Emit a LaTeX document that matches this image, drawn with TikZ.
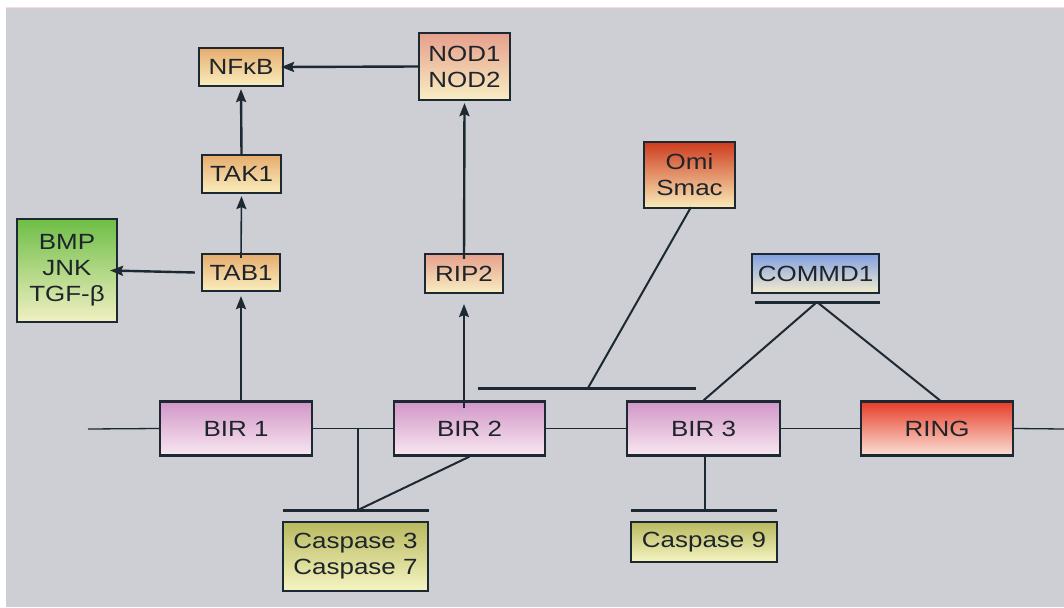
\documentclass[tikz,border=0pt]{standalone}
\usepackage{fontspec}
\setmainfont[FakeStretch=1.18]{Liberation Sans}
\usetikzlibrary{arrows.meta}
\definecolor{bg}{RGB}{206,206,213}
\definecolor{ink}{RGB}{28,40,50}
\tikzset{
  box/.style={draw=ink, line width=2.2pt, inner sep=0pt, align=center,
    font=\fontsize{22}{26}\selectfont, text={rgb,255:red,30;green,36;blue,42}},
  orangebox/.style={box, top color={rgb,255:red,230;green,172;blue,110}, bottom color={rgb,255:red,250;green,238;blue,190}},
  pinkbox/.style={box, top color={rgb,255:red,230;green,160;blue,140}, bottom color={rgb,255:red,248;green,238;blue,195}},
  greenbox/.style={box, top color={rgb,255:red,110;green,190;blue,70}, bottom color={rgb,255:red,242;green,240;blue,195}},
  omibox/.style={box, top color={rgb,255:red,205;green,60;blue,30}, bottom color={rgb,255:red,250;green,236;blue,185}},
  bluebox/.style={box, top color={rgb,255:red,130;green,160;blue,225}, bottom color={rgb,255:red,245;green,236;blue,205}},
  birbox/.style={box, top color={rgb,255:red,210;green,150;blue,200}, bottom color={rgb,255:red,248;green,232;blue,240}},
  ringbox/.style={box, top color={rgb,255:red,232;green,60;blue,40}, middle color={rgb,255:red,236;green,80;blue,80}, bottom color={rgb,255:red,250;green,225;blue,215}},
  caspbox/.style={box, top color={rgb,255:red,185;green,185;blue,95}, bottom color={rgb,255:red,245;green,245;blue,195}},
  arr/.style={draw=ink, line width=2.4pt, -{Stealth[length=13pt,width=10pt,inset=2pt]}},
  thinline/.style={draw=ink, line width=1.3pt},
  midline/.style={draw=ink, line width=2pt},
  bar/.style={draw=ink, line width=3pt},
}
\begin{document}
\begin{tikzpicture}[x=1pt,y=-1pt]
\useasboundingbox (0,0) rectangle (1064,607);
\fill[white] (0,0) rectangle (1064,607);
\fill[bg] (6,8) rectangle (1064,607);
\draw[red!15, line width=1pt] (6,8) -- (1064,8);

% nodes
\node[orangebox, minimum width=84pt, minimum height=38pt] (nfkb) at (241,67) {NFκB};
\node[pinkbox, minimum width=91pt, minimum height=67pt] (nod) at (464.5,66.5) {NOD1\\NOD2};
\node[orangebox, minimum width=79pt, minimum height=38pt] (tak1) at (241.5,174) {TAK1};
\node[orangebox, minimum width=78pt, minimum height=37pt] (tab1) at (241,272.5) {TAB1};
\node[greenbox, minimum width=100pt, minimum height=103pt] (bmp) at (67,270.5) {BMP\\JNK\\TGF-β};
\node[pinkbox, minimum width=78pt, minimum height=39pt] (rip2) at (464,273.5) {RIP2};
\node[omibox, minimum width=91pt, minimum height=66pt] (omi) at (689.5,175) {Omi\\Smac};
\node[bluebox, minimum width=127pt, minimum height=39pt] (commd1) at (815.5,273.5) {COMMD1};
\node[birbox, minimum width=152pt, minimum height=54pt] (bir1) at (236,428.5) {BIR 1};
\node[birbox, minimum width=151pt, minimum height=54pt] (bir2) at (469.5,428.5) {BIR 2};
\node[birbox, minimum width=153pt, minimum height=54pt] (bir3) at (703.5,428.5) {BIR 3};
\node[ringbox, minimum width=152pt, minimum height=54pt] (ring) at (937,428.5) {RING};
\node[caspbox, minimum width=145pt, minimum height=69pt] (casp37) at (355.5,556.5) {Caspase 3\\Caspase 7};
\node[caspbox, minimum width=146pt, minimum height=40pt] (casp9) at (704,542) {Caspase 9};

% coordinates
\coordinate (lstart) at (88,429);
\coordinate (lend) at (1064,429);
\coordinate (c37top) at (358,429);
\coordinate (c37join) at (358,510);
\coordinate (c37barL) at (283,510);
\coordinate (c37barR) at (429,510);
\coordinate (c9join) at (705,510);
\coordinate (c9barL) at (631,510);
\coordinate (c9barR) at (777,510);
\coordinate (linkL) at (478,388);
\coordinate (linkR) at (696,388);
\coordinate (omijoin) at (588,388);
\coordinate (comL) at (755,302);
\coordinate (comR) at (880,302);
\coordinate (comjoin) at (817,302);

% main backbone
\draw[thinline] (lstart) -- (bir1.west);
\draw[thinline] (bir1.east) -- (bir2.west);
\draw[thinline] (bir2.east) -- (bir3.west);
\draw[thinline] (bir3.east) -- (ring.west);
\draw[thinline] (ring.east) -- (lend);

% arrows
\draw[arr] (nod.west) -- ([xshift=-3pt]nfkb.east);
\draw[arr] (tak1.north) -- ([yshift=-2pt]nfkb.south);
\draw[arr, line width=1.6pt] ([yshift=-5pt]tab1.north) -- ([yshift=-2pt]tak1.south);
\draw[arr] ([xshift=-6pt]tab1.west) -- ([xshift=-8pt]bmp.east);
\draw[arr] (tab1.south |- bir1.north) -- ([yshift=-4pt]tab1.south);
\draw[arr] ([yshift=-6pt]rip2.north) -- ([yshift=-2pt]nod.south);
\draw[arr, line width=1.8pt] ([yshift=-8pt]rip2.south |- bir2.north) -- ([yshift=-10pt]rip2.south);

% caspase 3/7
\draw[midline] (c37top) -- (c37join);
\draw[midline] (bir2.south) -- (c37join);
\draw[bar] (c37barL) -- (c37barR);

% caspase 9
\draw[midline] (bir3.south -| c9join) -- (c9join);
\draw[bar] (c9barL) -- (c9barR);

% Omi/Smac
\draw[bar] (linkL) -- (linkR);
\draw[midline] ([xshift=1.5pt,yshift=2pt]omi.south) -- (omijoin);

% COMMD1
\draw[bar] (comL) -- (comR);
\draw[midline] (comjoin) -- (bir3.north);
\draw[midline] (comjoin) -- ([xshift=3pt]ring.north);
\end{tikzpicture}
\end{document}
